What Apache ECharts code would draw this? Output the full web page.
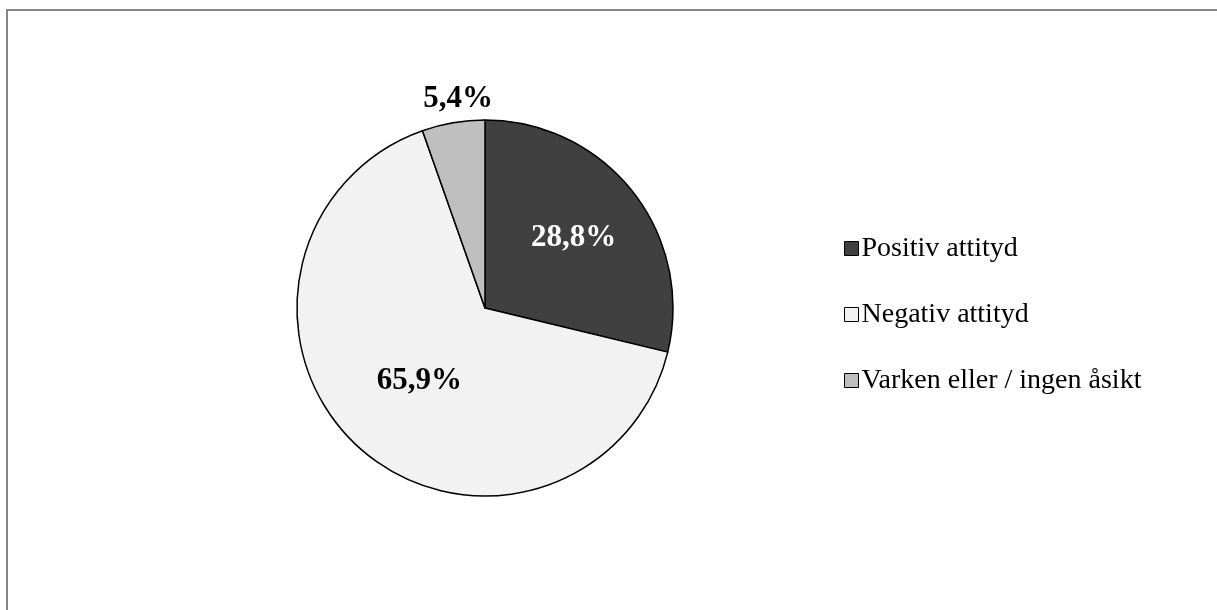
<!DOCTYPE html>
<html>
<head>
<meta charset="utf-8">
<script src="https://cdn.jsdelivr.net/npm/echarts@6/dist/echarts.min.js"></script>
<style>
  html, body { margin: 0; padding: 0; background: #fff; }
  #chart { width: 1217px; height: 610px; }
</style>
</head>
<body>
<div id="chart"></div>
<script>
// data
var categories = ["Positiv attityd", "Negativ attityd", "Varken eller / ingen åsikt"];
var values = [28.8, 65.9, 5.4];
var colors = ["#404040", "#f2f2f2", "#bfbfbf"];
var labelColors = ["#fff", "#000", "#000"];

// pie geometry
var cx = 485, cy = 308, R = 188;
// how far out each label sits (share of radius) plus a small sideways nudge
var labelRadius = [0.60, 0.52, 1.13];
var labelNudge = [[0, 0], [0, 0], [9, 0]];

var chart = echarts.init(document.getElementById("chart"));

var option = {
  backgroundColor: "#fff",
  animation: false,
  graphic: [
    {
      type: "rect",
      shape: { x: 7, y: 10, width: 1400, height: 800 },
      style: { fill: null, stroke: "#868686", lineWidth: 2 },
      silent: true
    }
  ],
  legend: {
    orient: "vertical",
    left: 839,
    top: 229,
    icon: "rect",
    itemWidth: 14,
    itemHeight: 14,
    itemGap: 37,
    itemStyle: { borderColor: "#000", borderWidth: 1 },
    textStyle: {
      fontFamily: "Liberation Serif",
      fontSize: 28,
      lineHeight: 29,
      color: "#000",
      padding: [0, 0, 0, -2]
    },
    data: categories
  },
  series: [
    {
      type: "pie",
      center: [cx, cy],
      radius: R,
      startAngle: 90,
      clockwise: true,
      avoidLabelOverlap: false,
      itemStyle: { borderColor: "#000", borderWidth: 1.5 },
      emphasis: { disabled: true },
      label: {
        show: true,
        position: "inside",
        fontFamily: "Liberation Serif",
        fontWeight: "bold",
        fontSize: 31,
        formatter: function (p) {
          return p.value.toFixed(1).replace(".", ",") + "%";
        }
      },
      labelLine: { show: false },
      labelLayout: function (p) {
        var r = p.labelRect;
        var lx = r.x + r.width / 2 - cx;
        var ly = r.y + r.height / 2 - cy;
        var d = Math.sqrt(lx * lx + ly * ly) || 1;
        var k = labelRadius[p.dataIndex] * R / d;
        var n = labelNudge[p.dataIndex];
        return { x: cx + lx * k + n[0], y: cy + ly * k + n[1] };
      },
      data: categories.map(function (c, i) {
        return {
          name: c,
          value: values[i],
          itemStyle: { color: colors[i] },
          label: { color: labelColors[i] }
        };
      })
    }
  ]
};

chart.setOption(option);
</script>
</body>
</html>
